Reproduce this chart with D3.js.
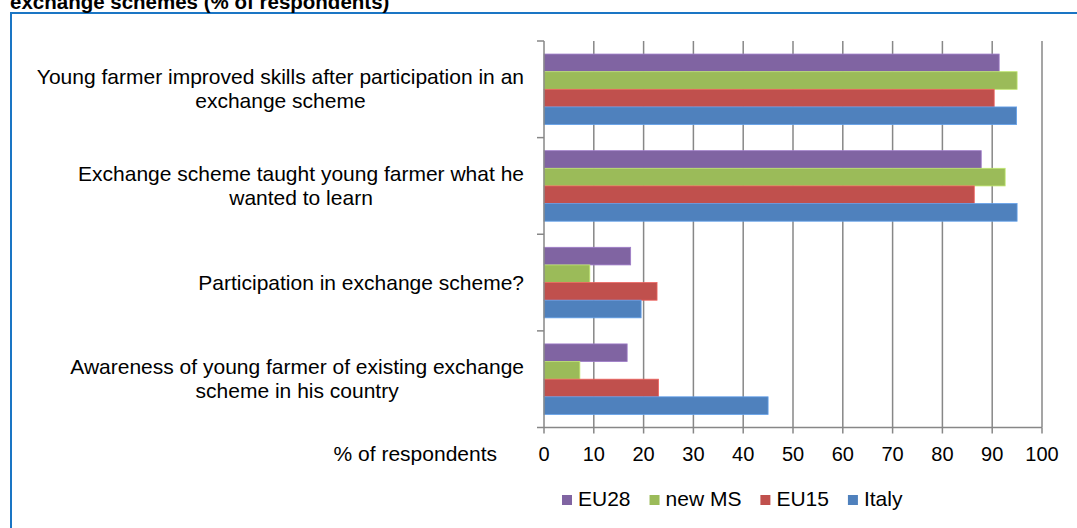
<!DOCTYPE html>
<html>
<head>
<meta charset="utf-8">
<script src="https://cdn.jsdelivr.net/npm/d3@7"></script>
<style>
  body { margin: 0; background: #fff; }
  svg { display: block; font-family: Arial, "Liberation Sans", sans-serif; }
</style>
</head>
<body>
<div id="chart"></div>
<script>
// categories, top to bottom (each is a list of label lines)
const categories = [
  ["Young farmer improved skills after participation in an", "exchange scheme"],
  ["Exchange scheme taught young farmer what he", "wanted to learn"],
  ["Participation in exchange scheme?"],
  ["Awareness of young farmer of existing exchange", "scheme in his country"]
];
const seriesNames = ["EU28", "new MS", "EU15", "Italy"];
const seriesColors = ["#8064A2", "#9BBB59", "#C0504D", "#4F81BD"];
// values per series, same order as categories
const eu28 = [91.4, 87.8, 17.4, 16.7];
const newMS = [95.0, 92.6, 9.2, 7.2];
const eu15 = [90.4, 86.4, 22.7, 23.0];
const italy = [94.9, 95.0, 19.5, 45.0];
const xTicks = [0, 10, 20, 30, 40, 50, 60, 70, 80, 90, 100];
const titleText = "exchange schemes (% of respondents)";
const axisTitle = "% of respondents";

const seriesValues = [eu28, newMS, eu15, italy];

const width = 1077, height = 528;
const plot = { left: 544, right: 1042, top: 41, bottom: 427.5 };
const fs = 21;

const svg = d3.select("#chart").append("svg")
  .attr("width", width)
  .attr("height", height);

// outer frame (runs off the right/bottom edge)
svg.append("rect")
  .attr("x", 11).attr("y", 13)
  .attr("width", 1200).attr("height", 700)
  .attr("fill", "none")
  .attr("stroke", "#1a75c4")
  .attr("stroke-width", 2);

// clipped title at the very top
svg.append("text")
  .attr("x", 10).attr("y", 9)
  .attr("font-size", 20.5)
  .attr("font-weight", "bold")
  .attr("fill", "#000")
  .text(titleText);

const x = d3.scaleLinear().domain([0, 100]).range([plot.left, plot.right]);

const y = d3.scaleBand()
  .domain(d3.range(categories.length))
  .range([plot.top, plot.bottom])
  .paddingInner(0.27)
  .paddingOuter(0.135);

const ySeries = d3.scaleBand()
  .domain(d3.range(seriesNames.length))
  .range([0, y.bandwidth()]);

const step = y.step();
const catEdges = d3.range(categories.length + 1).map(i => plot.top + i * step);

// vertical gridlines
svg.append("g")
  .selectAll("line")
  .data(xTicks.slice(1))
  .join("line")
  .attr("x1", d => x(d)).attr("x2", d => x(d))
  .attr("y1", plot.top).attr("y2", plot.bottom)
  .attr("stroke", "#878787")
  .attr("stroke-width", 1.5);

// bars
const rows = categories.map((c, i) => ({ i, vals: seriesValues.map(s => s[i]) }));

const groups = svg.append("g")
  .selectAll("g")
  .data(rows)
  .join("g")
  .attr("transform", d => `translate(0, ${y(d.i)})`);

groups.selectAll("rect")
  .data(d => d.vals.map((v, k) => ({ v, k })))
  .join("rect")
  .attr("x", x(0))
  .attr("y", d => ySeries(d.k))
  .attr("width", d => x(d.v) - x(0))
  .attr("height", ySeries.bandwidth())
  .attr("fill", d => seriesColors[d.k])
  .attr("stroke", d => d3.color(seriesColors[d.k]).brighter(0.6))
  .attr("stroke-width", 0.8);

// axes
const axisColor = "#878787";
const axes = svg.append("g")
  .attr("stroke", axisColor)
  .attr("stroke-width", 1.5);

axes.append("line")
  .attr("x1", plot.left).attr("x2", plot.left)
  .attr("y1", plot.top).attr("y2", plot.bottom);
axes.append("line")
  .attr("x1", plot.left).attr("x2", plot.right)
  .attr("y1", plot.bottom).attr("y2", plot.bottom);

axes.selectAll(".ytick")
  .data(catEdges)
  .join("line")
  .attr("class", "ytick")
  .attr("x1", plot.left - 7).attr("x2", plot.left)
  .attr("y1", d => d).attr("y2", d => d);

axes.selectAll(".xtick")
  .data(xTicks)
  .join("line")
  .attr("class", "xtick")
  .attr("x1", d => x(d)).attr("x2", d => x(d))
  .attr("y1", plot.bottom).attr("y2", plot.bottom + 6);

// x tick labels
svg.append("g")
  .selectAll("text")
  .data(xTicks)
  .join("text")
  .attr("x", d => x(d))
  .attr("y", 461)
  .attr("text-anchor", "middle")
  .attr("font-size", 20)
  .attr("fill", "#000")
  .text(d => d);

svg.append("text")
  .attr("x", 497)
  .attr("y", 461)
  .attr("text-anchor", "end")
  .attr("font-size", fs)
  .attr("fill", "#000")
  .text(axisTitle);

// category labels: block right-aligned at 524, lines centred within block
const lineH = 24;
const labelRight = 524;
categories.forEach((lines, i) => {
  const cy = plot.top + (i + 0.5) * step;
  const g = svg.append("g");
  const texts = lines.map((t, j) => g.append("text")
    .attr("y", cy - (lines.length - 1) * lineH / 2 + j * lineH + 7)
    .attr("font-size", fs)
    .attr("fill", "#000")
    .attr("text-anchor", "middle")
    .text(t));
  const maxW = d3.max(texts, t => t.node().getComputedTextLength());
  texts.forEach(t => t.attr("x", labelRight - maxW / 2));
});

// legend
const legend = svg.append("g");
let lx = 562;
seriesNames.forEach((name, k) => {
  legend.append("rect")
    .attr("x", lx).attr("y", 495)
    .attr("width", 10).attr("height", 10)
    .attr("fill", seriesColors[k]);
  const t = legend.append("text")
    .attr("x", lx + 16).attr("y", 506)
    .attr("font-size", fs)
    .attr("fill", "#000")
    .text(name);
  lx += 16 + t.node().getComputedTextLength() + 19;
});
</script>
</body>
</html>
